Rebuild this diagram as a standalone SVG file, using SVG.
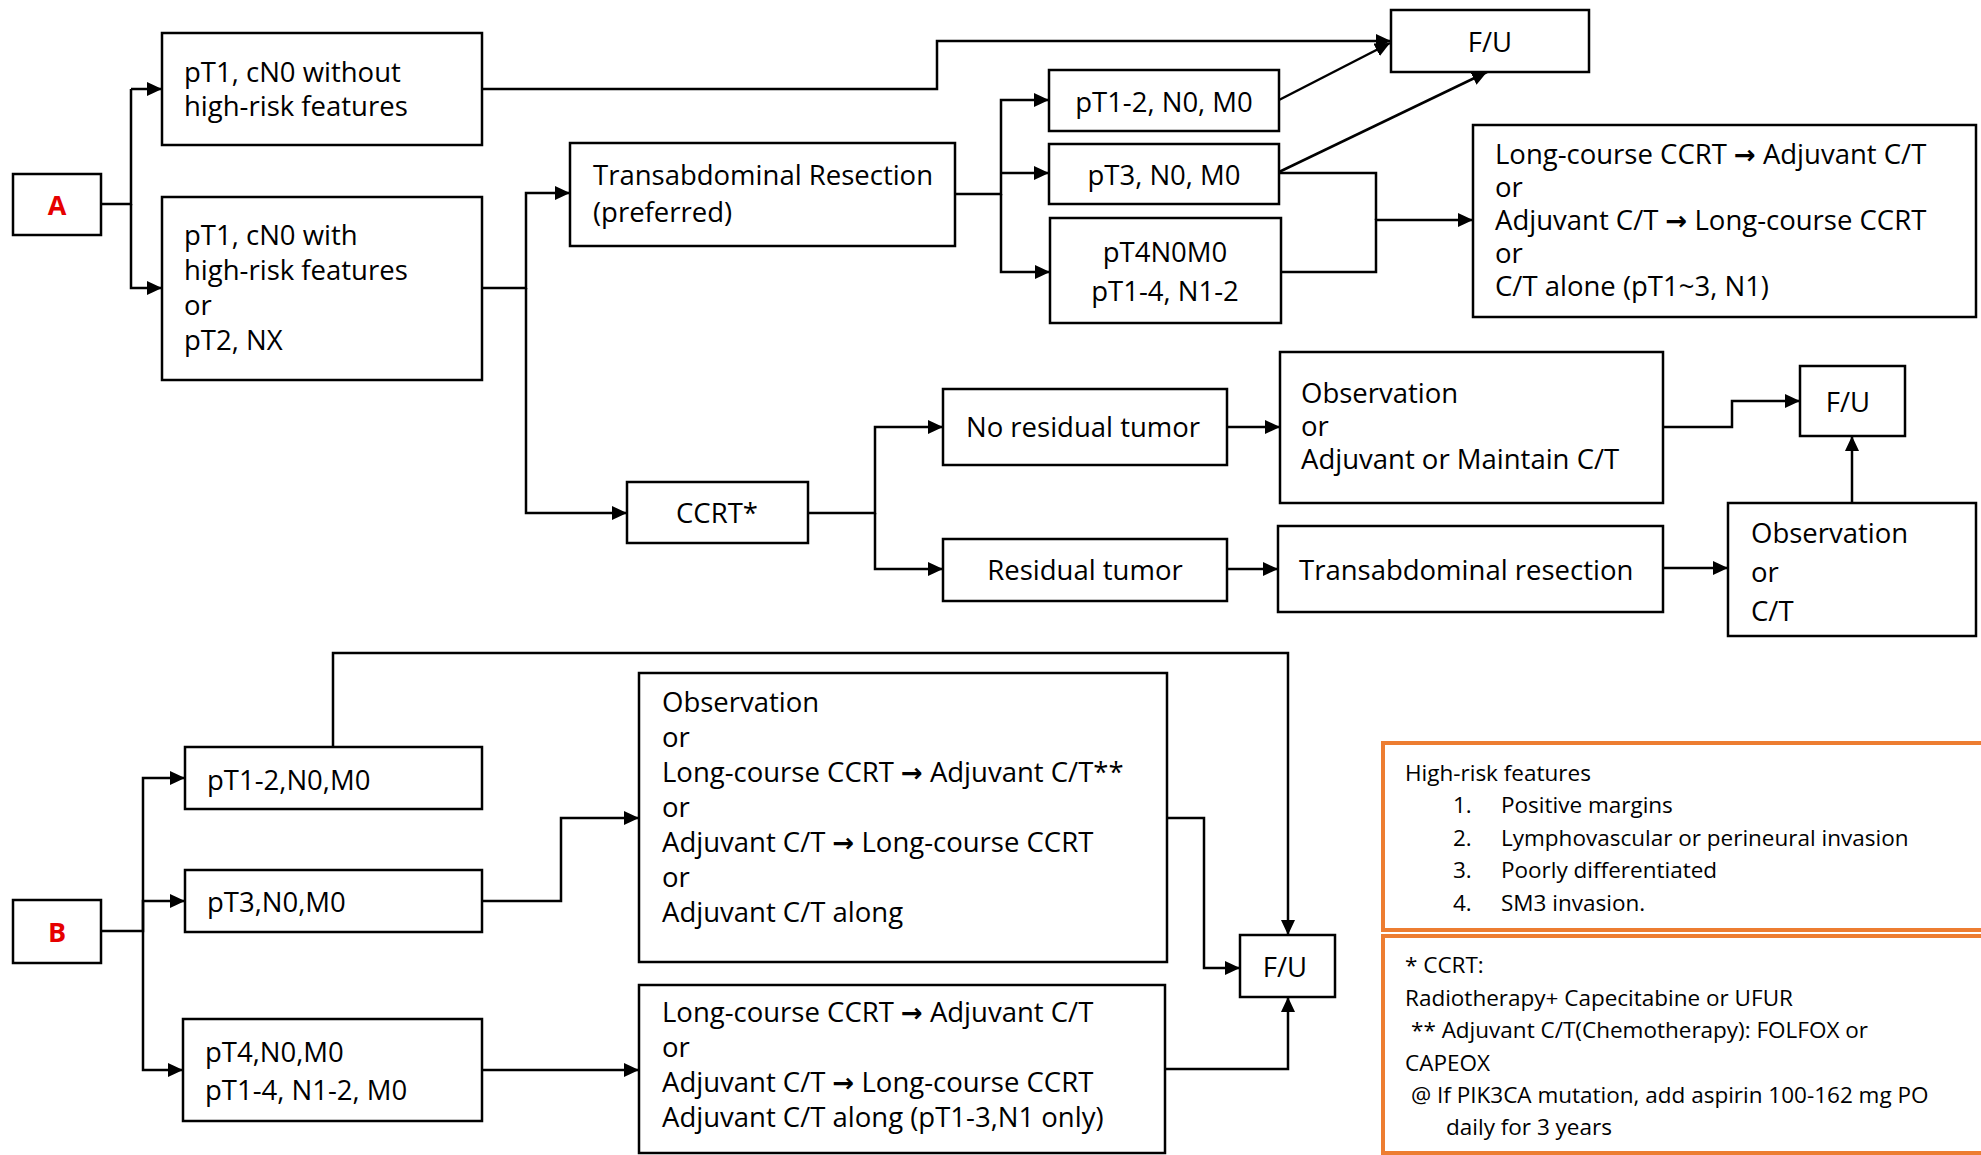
<svg xmlns="http://www.w3.org/2000/svg" width="1981" height="1155" viewBox="0 0 1981 1155">
<style>
  .box{fill:#fff;stroke:#000;stroke-width:2.5}
  .leg{fill:#fff;stroke:#ED7D31;stroke-width:4}
  .t{font-family:"Open Sans","Liberation Sans",sans-serif;font-size:27.5px;fill:#000}
  .c{text-anchor:middle}
  .lbl{font-family:"Open Sans","Liberation Sans",sans-serif;font-size:27px;font-weight:bold;fill:#E60000;text-anchor:middle}
  .s{font-family:"Open Sans","Liberation Sans",sans-serif;font-size:22.5px;fill:#000}
  .arw{font-family:"DejaVu Sans",sans-serif;font-weight:bold;font-size:26px}
  .ln{fill:none;stroke:#000;stroke-width:2.5}
  .ar{marker-end:url(#ah)}
</style>
<defs>
  <marker id="ah" markerUnits="userSpaceOnUse" markerWidth="15" markerHeight="14" refX="15" refY="7" orient="auto">
    <path d="M0,0 L15,7 L0,14 z" fill="#000"/>
  </marker>
</defs>
<rect width="1981" height="1155" fill="#fff"/>

<g id="connectors">
  <path class="ln" d="M101,204 H131 V89"/>
  <path class="ln ar" d="M131,89 H162"/>
  <path class="ln ar" d="M131,204 V288 H162"/>
  <path class="ln ar" d="M482,89 H937 V41 H1391"/>
  <path class="ln ar" d="M482,288 H526 V193 H570"/>
  <path class="ln ar" d="M526,288 V513 H627"/>
  <path class="ln ar" d="M955,194 H1001 V100 H1049"/>
  <path class="ln ar" d="M1001,173 H1049"/>
  <path class="ln ar" d="M1001,194 V272 H1050"/>
  <path class="ln ar" d="M1279,100 L1390,43"/>
  <path class="ln ar" d="M1279,172 L1487,72"/>
  <path class="ln" d="M1279,173 H1376 V220"/>
  <path class="ln ar" d="M1281,272 H1376 V220 H1473"/>
  <path class="ln ar" d="M808,513 H875 V427 H943"/>
  <path class="ln ar" d="M875,513 V569 H943"/>
  <path class="ln ar" d="M1227,427 H1280"/>
  <path class="ln ar" d="M1227,569 H1278"/>
  <path class="ln ar" d="M1663,427 H1732 V401 H1800"/>
  <path class="ln ar" d="M1663,568 H1728"/>
  <path class="ln ar" d="M1852,503 V436"/>
  <path class="ln ar" d="M101,931 H143 V778 H185"/>
  <path class="ln ar" d="M143,931 V901 H185"/>
  <path class="ln ar" d="M143,931 V1070 H183"/>
  <path class="ln ar" d="M333,747 V653 H1288 V935"/>
  <path class="ln ar" d="M482,901 H561 V818 H639"/>
  <path class="ln ar" d="M482,1070 H639"/>
  <path class="ln ar" d="M1167,818 H1204 V968 H1240"/>
  <path class="ln ar" d="M1165,1069 H1288 V997"/>
</g>

<g id="nodeA">
  <rect class="box" x="13" y="174" width="88" height="61"/>
  <text class="lbl" x="57" y="215">A</text>
</g>
<g id="nodeA1">
  <rect class="box" x="162" y="33" width="320" height="112"/>
  <text class="t" x="184" y="82">pT1, cN0 without</text>
  <text class="t" x="184" y="116">high-risk features</text>
</g>
<g id="nodeA2">
  <rect class="box" x="162" y="197" width="320" height="183"/>
  <text class="t" x="184" y="245">pT1, cN0 with</text>
  <text class="t" x="184" y="280">high-risk features</text>
  <text class="t" x="184" y="315">or</text>
  <text class="t" x="184" y="350">pT2, NX</text>
</g>
<g id="nodeTrans">
  <rect class="box" x="570" y="143" width="385" height="103"/>
  <text class="t" x="593" y="185">Transabdominal Resection</text>
  <text class="t" x="593" y="222">(preferred)</text>
</g>
<g id="nodePT12">
  <rect class="box" x="1049" y="70" width="230" height="61"/>
  <text class="t c" x="1164" y="112">pT1-2, N0, M0</text>
</g>
<g id="nodePT3">
  <rect class="box" x="1049" y="144" width="230" height="60"/>
  <text class="t c" x="1164" y="185">pT3, N0, M0</text>
</g>
<g id="nodePT4">
  <rect class="box" x="1050" y="218" width="231" height="105"/>
  <text class="t c" x="1165" y="262">pT4N0M0</text>
  <text class="t c" x="1165" y="301">pT1-4, N1-2</text>
</g>
<g id="nodeFU1">
  <rect class="box" x="1391" y="10" width="198" height="62"/>
  <text class="t c" x="1490" y="52">F/U</text>
</g>
<g id="nodeAdjA">
  <rect class="box" x="1473" y="125" width="503" height="192"/>
  <text class="t" x="1495" y="164">Long-course CCRT <tspan class="arw">→</tspan> Adjuvant C/T</text>
  <text class="t" x="1495" y="197">or</text>
  <text class="t" x="1495" y="230">Adjuvant C/T <tspan class="arw">→</tspan> Long-course CCRT</text>
  <text class="t" x="1495" y="263">or</text>
  <text class="t" x="1495" y="296">C/T alone (pT1~3, N1)</text>
</g>
<g id="nodeCCRT">
  <rect class="box" x="627" y="482" width="181" height="61"/>
  <text class="t c" x="717" y="523">CCRT*</text>
</g>
<g id="nodeNoRes">
  <rect class="box" x="943" y="389" width="284" height="76"/>
  <text class="t c" x="1083" y="437">No residual tumor</text>
</g>
<g id="nodeRes">
  <rect class="box" x="943" y="539" width="284" height="62"/>
  <text class="t c" x="1085" y="580">Residual tumor</text>
</g>
<g id="nodeObs">
  <rect class="box" x="1280" y="352" width="383" height="151"/>
  <text class="t" x="1301" y="403">Observation</text>
  <text class="t" x="1301" y="436">or</text>
  <text class="t" x="1301" y="469">Adjuvant or Maintain C/T</text>
</g>
<g id="nodeTransRes">
  <rect class="box" x="1278" y="526" width="385" height="86"/>
  <text class="t" x="1299" y="580">Transabdominal resection</text>
</g>
<g id="nodeFU2">
  <rect class="box" x="1800" y="366" width="105" height="70"/>
  <text class="t c" x="1848" y="412">F/U</text>
</g>
<g id="nodeObsCT">
  <rect class="box" x="1728" y="503" width="248" height="133"/>
  <text class="t" x="1751" y="543">Observation</text>
  <text class="t" x="1751" y="582">or</text>
  <text class="t" x="1751" y="621">C/T</text>
</g>

<g id="nodeB">
  <rect class="box" x="13" y="900" width="88" height="63"/>
  <text class="lbl" x="57" y="942">B</text>
</g>
<g id="nodeB12">
  <rect class="box" x="185" y="747" width="297" height="62"/>
  <text class="t" x="207" y="790">pT1-2,N0,M0</text>
</g>
<g id="nodeB3">
  <rect class="box" x="185" y="870" width="297" height="62"/>
  <text class="t" x="207" y="912">pT3,N0,M0</text>
</g>
<g id="nodeB4">
  <rect class="box" x="183" y="1019" width="299" height="102"/>
  <text class="t" x="205" y="1062">pT4,N0,M0</text>
  <text class="t" x="205" y="1100">pT1-4, N1-2, M0</text>
</g>
<g id="nodeObsB">
  <rect class="box" x="639" y="673" width="528" height="289"/>
  <text class="t" x="662" y="712">Observation</text>
  <text class="t" x="662" y="747">or</text>
  <text class="t" x="662" y="782">Long-course CCRT <tspan class="arw">→</tspan> Adjuvant C/T**</text>
  <text class="t" x="662" y="817">or</text>
  <text class="t" x="662" y="852">Adjuvant C/T <tspan class="arw">→</tspan> Long-course CCRT</text>
  <text class="t" x="662" y="887">or</text>
  <text class="t" x="662" y="922">Adjuvant C/T along</text>
</g>
<g id="nodeLowB">
  <rect class="box" x="639" y="985" width="526" height="168"/>
  <text class="t" x="662" y="1022">Long-course CCRT <tspan class="arw">→</tspan> Adjuvant C/T</text>
  <text class="t" x="662" y="1057">or</text>
  <text class="t" x="662" y="1092">Adjuvant C/T <tspan class="arw">→</tspan> Long-course CCRT</text>
  <text class="t" x="662" y="1127">Adjuvant C/T along (pT1-3,N1 only)</text>
</g>
<g id="nodeFUB">
  <rect class="box" x="1240" y="935" width="95" height="62"/>
  <text class="t c" x="1285" y="977">F/U</text>
</g>

<g id="legendHighRisk">
  <rect class="leg" x="1383" y="743" width="620" height="187"/>
  <text class="s" x="1405" y="781">High-risk features</text>
  <text class="s" x="1453" y="813">1.</text>
  <text class="s" x="1501" y="813">Positive margins</text>
  <text class="s" x="1453" y="846">2.</text>
  <text class="s" x="1501" y="846">Lymphovascular or perineural invasion</text>
  <text class="s" x="1453" y="878">3.</text>
  <text class="s" x="1501" y="878">Poorly differentiated</text>
  <text class="s" x="1453" y="911">4.</text>
  <text class="s" x="1501" y="911">SM3 invasion.</text>
</g>
<g id="legendNotes">
  <rect class="leg" x="1383" y="936" width="620" height="217"/>
  <text class="s" x="1405" y="973">* CCRT:</text>
  <text class="s" x="1405" y="1006">Radiotherapy+ Capecitabine or UFUR</text>
  <text class="s" x="1411" y="1038">** Adjuvant C/T(Chemotherapy): FOLFOX or</text>
  <text class="s" x="1405" y="1071">CAPEOX</text>
  <text class="s" x="1411" y="1103">@ If PIK3CA mutation, add aspirin 100-162 mg PO</text>
  <text class="s" x="1446" y="1135">daily for 3 years</text>
</g>
</svg>
